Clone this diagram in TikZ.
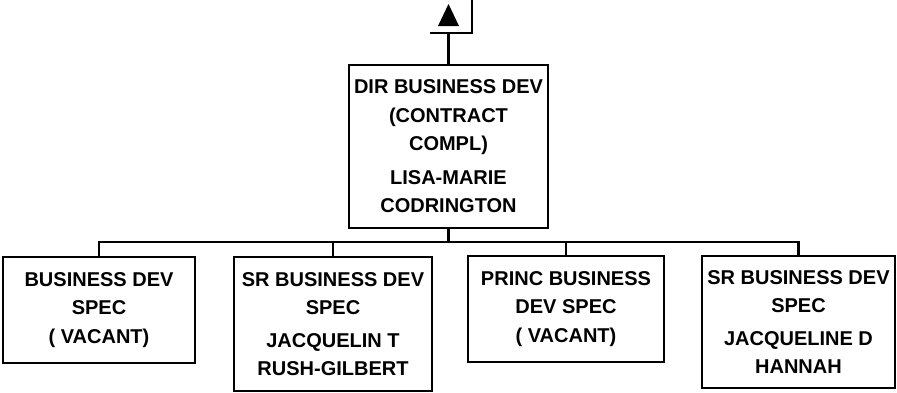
\documentclass[tikz,border=0pt]{standalone}
\usepackage{fontspec}
\setmainfont{Liberation Sans}
\usepackage{tikz}

\begin{document}
\begin{tikzpicture}[x=1pt,y=-1pt,line width=2.2pt,
    poste/.style={draw,rectangle,align=center,inner sep=0pt,
        font=\bfseries\fontsize{20}{28.5}\selectfont,minimum height=106pt}]
    \useasboundingbox (0,0) rectangle (897,392);
    % chef de service
    \node[poste,minimum width=199pt,minimum height=163pt] (dir) at (448.5,146.5)
        {DIR BUSINESS DEV\\(CONTRACT\\COMPL)\\[5pt]LISA-MARIE\\CODRINGTON};
    % les quatre postes
    \node[poste,minimum width=192pt] (spec1) at (99,310)
        {BUSINESS DEV\\SPEC\\( VACANT)};
    \node[poste,minimum width=198pt,minimum height=134pt] (spec2) at (333,324)
        {SR BUSINESS DEV\\SPEC\\[4pt]JACQUELIN T\\RUSH-GILBERT};
    \node[poste,minimum width=196pt] (spec3) at (566,309)
        {PRINC BUSINESS\\DEV SPEC\\( VACANT)};
    \node[poste,minimum width=193pt,minimum height=132pt] (spec4) at (798.5,322)
        {SR BUSINESS DEV\\SPEC\\[4pt]JACQUELINE D\\HANNAH};
    % liaisons
    \coordinate (bus) at (448.5,242);
    \draw (dir.south) -- (bus);
    \foreach \p in {spec1,spec2,spec3,spec4}
        \draw (bus) -| (\p.north);
    % renvoi vers le haut
    \coordinate (tee) at (448.5,33);
    \coordinate (tl) at (430,33);
    \coordinate (tr) at (472,33);
    \coordinate (haut) at (472,0);
    \draw (dir.north) -- (tee);
    \draw (tl) -- (tr) -- (haut);
    \fill (448.5,4) -- (438,26) -- (459,26) -- cycle;
\end{tikzpicture}
\end{document}
